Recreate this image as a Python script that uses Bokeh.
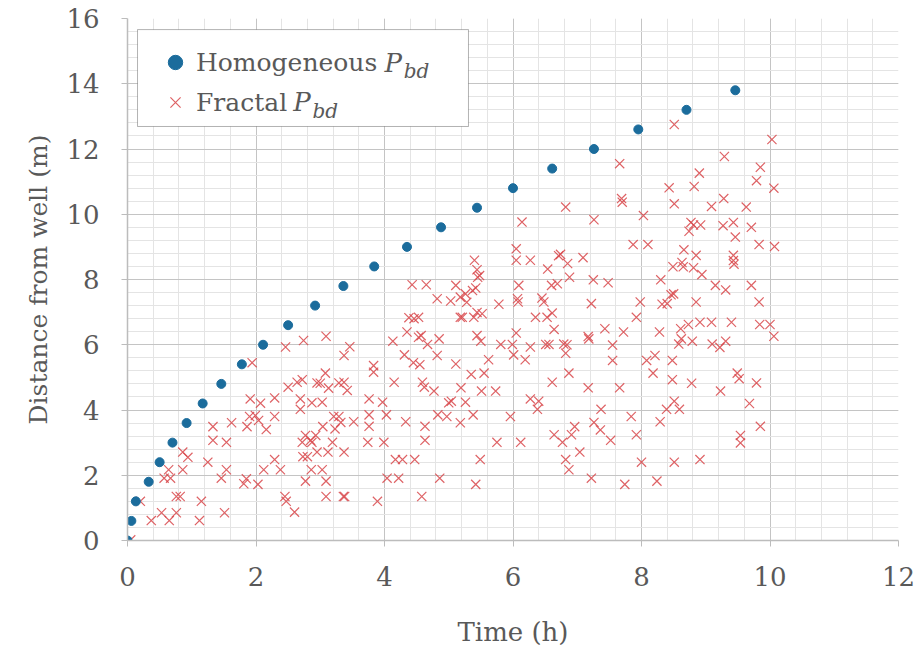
from bokeh.plotting import figure
from bokeh.models import (Range1d, SingleIntervalTicker, Legend, LegendItem, Label, BoxAnnotation)
from bokeh.embed import file_html
from bokeh.resources import INLINE

# ---------------- data ----------------
x_ticks_interval = 2
y_ticks_interval = 2
x_label = "Time (h)"
y_label = "Distance from well (m)"
series_names = ["Homogeneous", "Fractal"]

hom_x = [0.0, 0.06, 0.13, 0.33, 0.5, 0.7, 0.92, 1.17, 1.46, 1.78, 2.11, 2.5,
         2.92, 3.36, 3.84, 4.35, 4.88, 5.44, 6.0, 6.61, 7.26, 7.95, 8.7, 9.46]
hom_y = [0.0, 0.6, 1.2, 1.8, 2.4, 3.0, 3.6, 4.2, 4.8, 5.4, 6.0, 6.6,
         7.2, 7.8, 8.4, 9.0, 9.6, 10.2, 10.8, 11.4, 12.0, 12.6, 13.2, 13.8]

frac_x = [
    0.05, 0.2, 0.37, 0.53, 0.65, 0.76, 1.12, 1.51,
    0.76, 0.82, 1.15, 0.57, 0.67, 0.64, 0.86,
    0.86, 0.94, 1.25, 1.46, 1.54,
    1.81, 1.85, 2.03, 2.12, 2.29, 2.38,
    2.45, 2.47, 2.6, 2.77, 2.86, 3.03, 3.09, 3.09,
    2.73, 2.8, 2.95, 3.12,
    2.77, 2.85, 2.93, 2.72, 2.87,
    3.04, 3.19, 3.23, 3.21, 3.29,
    1.33, 1.54, 1.33, 1.62, 1.86, 1.9, 1.99, 2.04, 2.16, 2.29,
    1.91, 2.07, 2.29, 2.69, 2.69, 2.87, 3.03,
    2.5, 2.64, 2.72, 2.95, 3.0, 3.13, 3.29, 3.08,
    1.94, 2.46, 2.74, 3.09,
    3.36, 3.38, 3.89, 4.58, 4.04, 4.22, 4.86, 5.42,
    4.17, 4.28, 4.47, 5.49, 3.74, 3.99, 4.63, 3.37,
    5.75, 6.12, 6.64, 3.32, 3.52, 3.76, 3.76, 4.03,
    4.33, 4.63, 4.83, 4.97, 5.18, 5.38, 5.96, 3.76,
    3.97, 5.0, 5.04, 5.26, 6.27, 6.4, 6.38, 3.37,
    3.42, 4.15, 4.59, 4.62, 4.77, 5.19, 5.51, 5.73,
    6.61, 3.83, 3.83, 4.31, 4.45, 4.55, 4.82, 5.11,
    5.35, 5.55, 5.62, 6.01, 6.19, 6.27, 3.37, 3.46,
    4.13, 4.35, 4.53, 4.57, 4.67, 4.85, 5.44, 5.5,
    5.81, 5.99, 6.05, 6.51, 6.56, 6.64, 4.38, 4.53,
    5.18, 5.21, 5.39, 5.52, 6.35, 6.53, 6.61, 4.46, 5.44,
    7.74, 8.24, 7.22, 6.87, 6.82, 8.0, 8.51, 8.91,
    7.04, 6.77, 6.91, 6.96, 7.26, 7.36, 7.52, 7.92,
    7.84, 7.37, 8.29, 8.39, 8.51, 8.59, 9.54, 9.54,
    9.85, 9.68, 9.23, 7.17, 7.66, 6.87, 8.48, 8.78,
    9.49, 9.52, 9.79, 8.08, 8.21, 8.18, 8.48, 7.55,
    7.55, 6.79, 6.82, 6.84, 7.17, 7.18, 7.43, 7.72,
    7.92, 8.28, 8.58, 8.62, 8.61, 8.73, 8.91, 8.79,
    9.1, 9.22, 9.31, 9.09, 9.4, 9.84, 10.0, 10.06,
    8.51, 10.03, 9.29, 7.66, 9.85, 8.9, 9.79, 8.82,
    8.43, 10.06, 7.69, 7.7, 8.51, 9.28, 9.09, 9.63,
    6.82, 7.26, 8.03, 8.77, 8.81, 8.92, 8.74, 9.27,
    9.43, 9.46, 9.71, 7.87, 8.1, 9.83, 10.07, 6.74,
    6.85, 7.09, 8.66, 8.85, 8.81, 8.49, 8.63, 8.65,
    8.94, 9.43, 9.43, 9.44, 6.88, 7.25, 7.48, 8.3,
    9.15, 9.31, 9.71, 8.46, 8.5, 7.22, 7.98, 8.32,
    8.4, 8.85, 9.83,
    6.14, 6.05, 6.05, 6.27, 5.4, 5.44, 5.45, 5.48,
    6.54, 6.71, 4.43, 4.65, 5.11, 4.82, 5.03, 5.18,
    5.26, 5.37, 5.42, 5.28, 6.09, 6.07, 6.08, 6.45,
    6.48, 6.6, 6.69, 5.78,
]
frac_y = [
    0.02, 1.2, 0.61, 0.85, 0.61, 0.85, 0.61, 0.85,
    1.35, 1.35, 1.2, 1.91, 1.91, 2.17, 2.17,
    2.71, 2.55, 2.4, 1.91, 2.17,
    1.74, 1.89, 1.72, 2.17, 2.48, 2.17,
    1.35, 1.2, 0.87, 1.82, 2.17, 2.17, 1.82, 1.35,
    2.57, 2.57, 2.71, 2.71,
    3.22, 3.07, 3.22, 3.01, 3.01,
    3.49, 3.01, 3.42, 3.8, 3.8,
    3.07, 3.01, 3.49, 3.61, 3.49, 3.8, 3.83, 3.68, 3.4, 3.8,
    4.34, 4.21, 4.37, 4.34, 4.02, 4.22, 4.24,
    4.7, 4.85, 4.93, 4.83, 4.82, 4.67, 4.83, 5.13,
    5.45, 5.93, 6.13, 6.26,
    1.35, 1.35, 1.2, 1.35, 1.91, 1.91, 1.91, 1.72,
    2.48, 2.48, 2.48, 2.48, 3.01, 3.01, 3.07, 2.71,
    3.01, 3.01, 3.24, 3.62, 3.64, 3.85, 3.5, 3.85,
    3.64, 3.5, 3.85, 3.8, 3.61, 3.85, 3.8, 4.34,
    4.24, 4.22, 4.27, 4.24, 4.34, 4.27, 4.02, 4.85,
    4.6, 4.85, 4.85, 4.7, 4.58, 4.68, 4.58, 4.58,
    4.85, 5.36, 5.16, 5.69, 5.45, 5.39, 5.67, 5.41,
    5.09, 5.13, 5.54, 5.69, 5.54, 5.93, 5.67, 5.94,
    6.11, 6.39, 6.23, 6.28, 6.01, 6.18, 6.28, 6.11,
    6.01, 6.01, 6.36, 6.01, 6.01, 6.47, 6.83, 6.84,
    6.84, 6.84, 6.84, 6.95, 6.84, 6.84, 6.97, 6.8, 6.99,
    1.72, 1.82, 1.91, 2.17, 2.48, 2.4, 2.4, 2.48,
    2.71, 3.01, 3.24, 3.49, 3.62, 3.39, 3.07, 3.24,
    3.8, 4.02, 3.64, 4.02, 4.27, 4.02, 3.22, 2.99,
    3.5, 4.2, 4.58, 4.68, 4.68, 5.13, 4.93, 4.82,
    5.13, 4.96, 4.83, 5.52, 5.67, 5.13, 5.52, 5.52,
    5.99, 6.02, 5.74, 6.0, 6.25, 6.18, 6.49, 6.39,
    6.84, 6.39, 6.02, 6.18, 6.49, 6.62, 6.69, 6.11,
    6.02, 5.92, 6.11, 6.69, 6.69, 6.62, 6.62, 6.26,
    12.75, 12.29, 11.77, 11.55, 11.44, 11.26, 11.03, 10.85,
    10.81, 10.8, 10.48, 10.37, 10.32, 10.48, 10.24, 10.22,
    10.22, 9.83, 9.96, 9.75, 9.67, 9.67, 9.48, 9.65,
    9.75, 9.3, 9.6, 9.07, 9.07, 9.07, 9.01, 8.77,
    8.49, 8.67, 8.91, 8.74, 8.36, 8.39, 8.52, 8.39,
    8.15, 8.74, 8.58, 8.47, 8.07, 7.99, 7.9, 7.99,
    7.82, 7.68, 7.82, 7.53, 7.56, 7.26, 7.31, 7.24,
    7.26, 7.31, 7.31,
    9.76, 8.94, 8.59, 8.59, 8.59, 8.3, 8.07, 8.12,
    8.32, 8.73, 7.84, 7.84, 7.82, 7.41, 7.34, 7.46,
    7.56, 7.66, 7.74, 7.3, 7.82, 7.41, 7.31, 7.43,
    7.31, 7.82, 7.87, 7.24,
]

# ---------------- styles ----------------
SERIF = "DejaVu Serif"
TEXT = "#595959"
HOM_COLOR = "#1b6c9c"
FRAC_COLOR = "#d8474a"

p = figure(width=923, height=649, output_backend="svg", toolbar_location=None,
           x_range=Range1d(0, 12), y_range=Range1d(0, 16),
           min_border_left=127, min_border_right=25, min_border_top=18,
           min_border_bottom=109)
p.outline_line_color = None
p.background_fill_color = "white"
p.border_fill_color = "white"

p.xaxis.ticker = SingleIntervalTicker(interval=x_ticks_interval, num_minor_ticks=5)
p.yaxis.ticker = SingleIntervalTicker(interval=y_ticks_interval, num_minor_ticks=5)
p.xgrid.ticker = p.xaxis.ticker
p.ygrid.ticker = p.yaxis.ticker

for g in (p.xgrid, p.ygrid):
    g.grid_line_color = "#c4c4c4"
    g.grid_line_width = 1
    g.minor_grid_line_color = "#e4e4e4"
    g.minor_grid_line_width = 1

for ax in (p.xaxis, p.yaxis):
    ax.axis_line_color = "#bcbcbc"
    ax.axis_line_width = 1.5
    ax.major_tick_line_color = "#bcbcbc"
    ax.major_tick_out = 6
    ax.major_tick_in = 0
    ax.minor_tick_out = 0
    ax.minor_tick_in = 0
    ax.major_label_text_font = SERIF
    ax.major_label_text_font_size = "26px"
    ax.major_label_text_color = TEXT
    ax.axis_label_text_font = SERIF
    ax.axis_label_text_font_style = "normal"
    ax.axis_label_text_color = TEXT

p.xaxis.axis_label = x_label
p.yaxis.axis_label = y_label
p.xaxis.axis_label_text_font_size = "26px"
p.yaxis.axis_label_text_font_size = "25px"
p.xaxis.major_label_standoff = 20
p.yaxis.major_label_standoff = 22
p.xaxis.axis_label_standoff = 28
p.yaxis.axis_label_standoff = 10

# legend frame (white box) drawn behind a transparent legend
p.add_layout(BoxAnnotation(left=0.156, right=5.307, top=15.66, bottom=12.69,
                           fill_color="white", fill_alpha=1.0,
                           line_color="black", line_width=1, level="annotation"))

r_frac = p.scatter(frac_x, frac_y, marker="x", size=13, line_color=FRAC_COLOR,
                   line_width=1.2, line_alpha=0.85)
r_hom = p.scatter(hom_x, hom_y, marker="circle", size=9, fill_color=HOM_COLOR,
                  line_color=HOM_COLOR)

legend = Legend(items=[LegendItem(label=series_names[0], renderers=[r_hom]),
                       LegendItem(label=series_names[1], renderers=[r_frac])],
                location=(27, 420), orientation="vertical")
legend.label_text_font = SERIF
legend.label_text_font_size = "25px"
legend.label_text_color = TEXT
legend.border_line_color = None
legend.background_fill_alpha = 0
legend.spacing = 4
legend.glyph_width = 42
legend.glyph_height = 36
legend.label_height = 36
legend.label_standoff = 0
legend.label_width = 240
legend.margin = 0
p.add_layout(legend)

# italic P with subscript bd following each legend text (data units)
for xs, ys in ((4.0, 14.65), (2.58, 13.43)):
    p.add_layout(Label(x=xs, y=ys, text="P",
                       text_font=SERIF, text_font_style="italic",
                       text_font_size="26px", text_color=TEXT,
                       text_baseline="middle", level="overlay"))
    p.add_layout(Label(x=xs + 0.3, y=ys - 0.26, text="bd",
                       text_font=SERIF, text_font_style="italic",
                       text_font_size="20px", text_color=TEXT,
                       text_baseline="middle", level="overlay"))

open("out.html", "w").write(file_html(p, INLINE))
